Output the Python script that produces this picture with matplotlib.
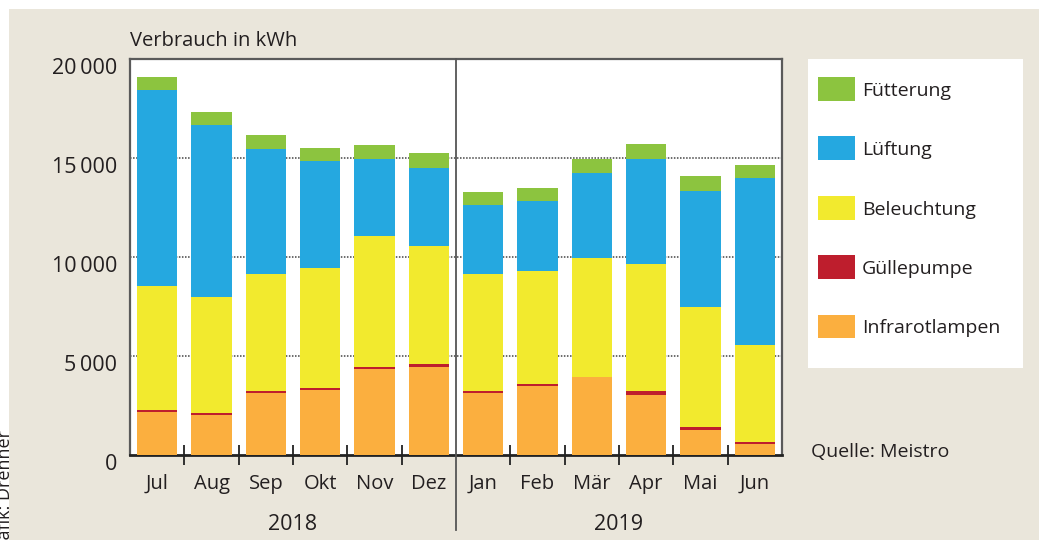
import matplotlib
matplotlib.use("Agg")
import matplotlib.pyplot as plt
from matplotlib.patches import Rectangle
from matplotlib.lines import Line2D
import matplotlib.transforms as mtransforms
import numpy as np

months = ["Jul", "Aug", "Sep", "Okt", "Nov", "Dez", "Jan", "Feb", "Mär", "Apr", "Mai", "Jun"]
years = ["2018", "2019"]
infrarot = [2170, 2020, 3130, 3280, 4350, 4450, 3130, 3490, 3940, 3030, 1260, 560]
guelle = [90, 100, 100, 100, 100, 150, 100, 100, 0, 200, 150, 100]
beleuchtung = [6280, 5860, 5910, 6060, 6610, 5960, 5910, 5710, 6010, 6420, 6070, 4900]
lueftung = [9900, 8680, 6320, 5400, 3890, 3940, 3470, 3520, 4300, 5300, 5860, 8430]
fuetterung = [640, 660, 690, 660, 690, 740, 660, 660, 710, 760, 760, 660]
series_labels = ["Infrarotlampen", "Güllepumpe", "Beleuchtung", "Lüftung", "Fütterung"]
series_colors = ["#FBAF3F", "#BE1E2D", "#F2EA2E", "#25A8E0", "#8CC43F"]
yticks = [0, 5000, 10000, 15000, 20000]

plt.rcParams['font.family'] = ['Open Sans', 'DejaVu Sans']
W, H = 1039, 540
fig = plt.figure(figsize=(W / 100, H / 100), dpi=100, facecolor="white")
BEIGE = "#EAE6DB"
TXT = "#231F20"

def fx(x):
    return x / W

def fy(y):
    return 1 - y / H

# beige panel
fig.patches.append(Rectangle((fx(9), 0), 1, fy(9), transform=fig.transFigure,
                             facecolor=BEIGE, edgecolor="none", zorder=-5))

L, R, T, B = 130, 782, 59, 454.7
ax = fig.add_axes([fx(L), fy(B), fx(R) - fx(L), fy(T) - fy(B)])
ax.set_zorder(2)
ax.set_facecolor("white")

data = [infrarot, guelle, beleuchtung, lueftung, fuetterung]
x = np.arange(len(months))
bottom = np.zeros(len(months))
for vals, col, lab in zip(data, series_colors, series_labels):
    ax.bar(x, vals, width=0.74, bottom=bottom, color=col, label=lab, zorder=3, linewidth=0)
    bottom += np.array(vals)

ax.set_xlim(-0.5, len(months) - 0.5)
ax.set_ylim(0, 20000)
for yv in yticks[1:-1]:
    ax.axhline(yv, color="#444444", lw=1.1, ls=(0, (1, 1)), zorder=1)

# divider between years
ax.add_line(Line2D([5.5, 5.5], [1, -0.19], transform=mtransforms.blended_transform_factory(ax.transData, ax.transAxes),
                   color="#555555", lw=1.3, clip_on=False, zorder=5))

for s in ["top", "right", "left"]:
    ax.spines[s].set_color("#5a5a5a")
    ax.spines[s].set_linewidth(1.6)
ax.spines["bottom"].set_color("#222222")
ax.spines["bottom"].set_linewidth(2)

ax.set_yticks(yticks)
ax.set_yticklabels([f"{v:,}".replace(",", "\u2009") for v in yticks], fontsize=15.5, color=TXT)
ax.tick_params(axis="y", length=0, pad=9)
off = mtransforms.ScaledTranslation(0, -7 / 100, fig.dpi_scale_trans)
for lab in ax.get_yticklabels():
    lab.set_transform(lab.get_transform() + off)

ax.set_xticks(x)
ax.set_xticklabels(months, fontsize=14.5, color=TXT)
ax.tick_params(axis="x", length=0, pad=14)
ax.set_xticks([i + 0.5 for i in range(len(months) - 1) if i != 5], minor=True)
ax.tick_params(axis="x", which="minor", direction="inout", length=14, width=1.3, color="#222222")

trans = mtransforms.blended_transform_factory(ax.transData, fig.transFigure)
ax.text(2.5, fy(525), years[0], transform=trans, ha="center", va="center", fontsize=15.5, color=TXT)
ax.text(8.5, fy(525), years[1], transform=trans, ha="center", va="center", fontsize=15.5, color=TXT)

fig.text(fx(130), fy(41), "Verbrauch in kWh", ha="left", va="center", fontsize=14.5, color=TXT)

# legend box
fig.patches.append(Rectangle((fx(808), fy(368)), fx(1023) - fx(808), fy(59) - fy(368),
                             transform=fig.transFigure, facecolor="white", edgecolor="none", zorder=1))
ycent = [89, 148, 208, 267, 326]
for yc, lab, col in zip(ycent, series_labels[::-1], series_colors[::-1]):
    fig.patches.append(Rectangle((fx(818), fy(yc + 11.5)), fx(37), 23 / H,
                                 transform=fig.transFigure, facecolor=col, edgecolor="none", zorder=2))
    fig.text(fx(862), fy(yc + 2), lab, ha="left", va="center", fontsize=14, color=TXT, zorder=3)

fig.text(fx(811), fy(452), "Quelle: Meistro", ha="left", va="center", fontsize=14, color=TXT)
fig.text(fx(5), fy(430), "Grafik: Drehner", ha="center", va="top", rotation=90, fontsize=13, color=TXT)

fig.savefig("out.png", dpi=100, facecolor="white")
